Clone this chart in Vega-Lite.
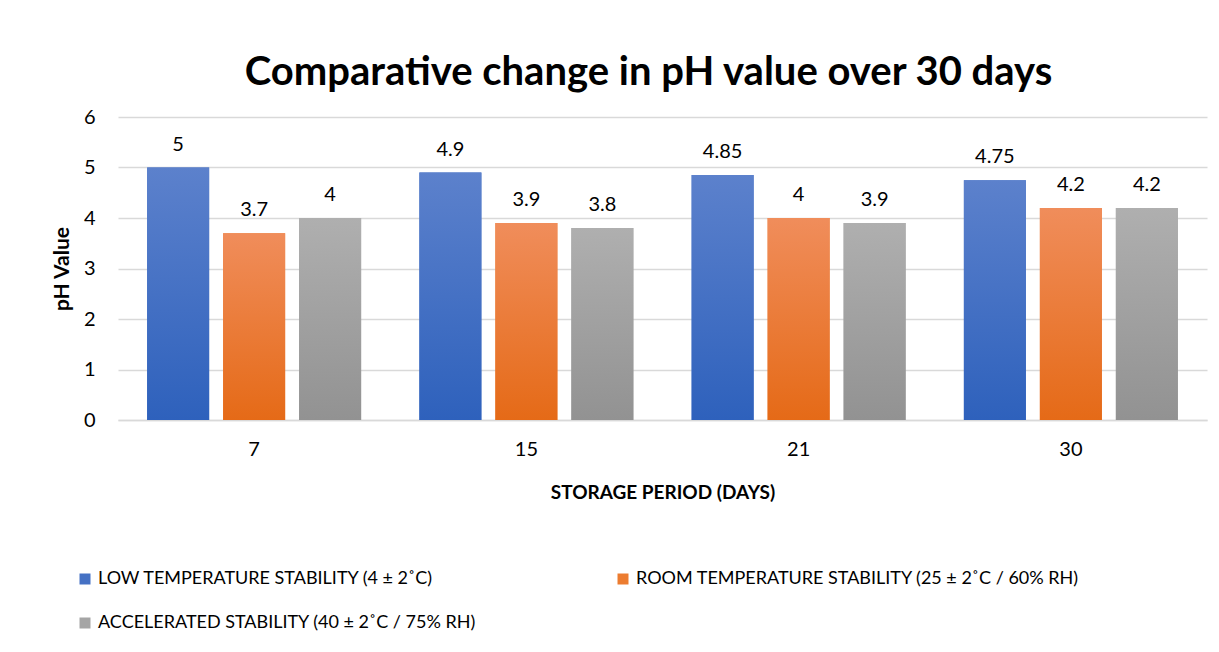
{
  "$schema": "https://vega.github.io/schema/vega-lite/v6.json",
  "width": 1089,
  "height": 303,
  "autosize": "none",
  "padding": {"left": 118, "top": 117, "right": 12, "bottom": 232},
  "background": "white",
  "config": {"font": "Lato", "view": {"stroke": null}},
  "title": {
    "text": "Comparative change in pH value over 30 days",
    "fontSize": 40,
    "fontWeight": "bold",
    "color": "#000000",
    "anchor": "middle",
    "frame": "group",
    "offset": 14,
    "dx": -14
  },
  "data": {
    "values": [
      {"day": "7", "series": "LOW TEMPERATURE STABILITY (4 ± 2˚C)", "ph": 5},
      {"day": "7", "series": "ROOM TEMPERATURE STABILITY (25 ± 2˚C / 60% RH)", "ph": 3.7},
      {"day": "7", "series": "ACCELERATED STABILITY (40 ± 2˚C / 75% RH)", "ph": 4},
      {"day": "15", "series": "LOW TEMPERATURE STABILITY (4 ± 2˚C)", "ph": 4.9},
      {"day": "15", "series": "ROOM TEMPERATURE STABILITY (25 ± 2˚C / 60% RH)", "ph": 3.9},
      {"day": "15", "series": "ACCELERATED STABILITY (40 ± 2˚C / 75% RH)", "ph": 3.8},
      {"day": "21", "series": "LOW TEMPERATURE STABILITY (4 ± 2˚C)", "ph": 4.85},
      {"day": "21", "series": "ROOM TEMPERATURE STABILITY (25 ± 2˚C / 60% RH)", "ph": 4},
      {"day": "21", "series": "ACCELERATED STABILITY (40 ± 2˚C / 75% RH)", "ph": 3.9},
      {"day": "30", "series": "LOW TEMPERATURE STABILITY (4 ± 2˚C)", "ph": 4.75},
      {"day": "30", "series": "ROOM TEMPERATURE STABILITY (25 ± 2˚C / 60% RH)", "ph": 4.2},
      {"day": "30", "series": "ACCELERATED STABILITY (40 ± 2˚C / 75% RH)", "ph": 4.2}
    ]
  },
  "encoding": {
    "x": {
      "field": "day",
      "type": "ordinal",
      "sort": ["7", "15", "21", "30"],
      "scale": {"paddingInner": 0.214, "paddingOuter": 0.107},
      "axis": {
        "title": "STORAGE PERIOD (DAYS)",
        "titleFontSize": 19,
        "titleFontWeight": "bold",
        "titleColor": "#000000",
        "titlePadding": 24,
        "labelAngle": 0,
        "labelFontSize": 20,
        "labelColor": "#000000",
        "labelPadding": 19,
        "ticks": false,
        "domain": true,
        "domainColor": "#D9D9D9",
        "domainWidth": 1.5
      }
    },
    "y": {
      "field": "ph",
      "type": "quantitative",
      "scale": {"domain": [0, 6], "nice": false},
      "axis": {
        "title": "pH Value",
        "titleFontSize": 21,
        "titleFontWeight": "bold",
        "titleColor": "#000000",
        "titlePadding": 11,
        "values": [0, 1, 2, 3, 4, 5, 6],
        "labelFontSize": 20,
        "labelColor": "#000000",
        "labelPadding": 23,
        "ticks": false,
        "domain": false,
        "grid": true,
        "gridColor": "#D9D9D9",
        "gridWidth": 1.5
      }
    },
    "xOffset": {
      "field": "series",
      "type": "nominal",
      "scale": {
        "domain": [
          "LOW TEMPERATURE STABILITY (4 ± 2˚C)",
          "ROOM TEMPERATURE STABILITY (25 ± 2˚C / 60% RH)",
          "ACCELERATED STABILITY (40 ± 2˚C / 75% RH)"
        ],
        "paddingInner": 0.184,
        "paddingOuter": 0
      }
    }
  },
  "layer": [
    {
      "mark": {"type": "bar"},
      "encoding": {
        "color": {
          "field": "series",
          "type": "nominal",
          "scale": {
            "domain": [
              "LOW TEMPERATURE STABILITY (4 ± 2˚C)",
              "ROOM TEMPERATURE STABILITY (25 ± 2˚C / 60% RH)",
              "ACCELERATED STABILITY (40 ± 2˚C / 75% RH)"
            ],
            "range": ["#4571C4", "#EC7C30", "#A5A5A5"]
          },
          "legend": {
            "orient": "none",
            "legendX": -42,
            "legendY": 453,
            "direction": "horizontal",
            "columns": 2,
            "title": null,
            "symbolType": "square",
            "symbolSize": 121,
            "symbolStrokeWidth": 0,
            "labelFontSize": 18,
            "labelColor": "#000000",
            "labelOffset": 4,
            "labelLimit": 1000,
            "columnPadding": 137,
            "rowPadding": 26
          }
        }
      }
    },
    {
      "transform": [{"filter": "datum.series === 'LOW TEMPERATURE STABILITY (4 ± 2˚C)'"}],
      "mark": {"type": "bar", "color": {"gradient": "linear", "x1": 0, "y1": 0, "x2": 0, "y2": 1, "stops": [{"offset": 0, "color": "#5C81CC"}, {"offset": 1, "color": "#2E61BC"}]}},
      "encoding": {}
    },
    {
      "transform": [{"filter": "datum.series === 'ROOM TEMPERATURE STABILITY (25 ± 2˚C / 60% RH)'"}],
      "mark": {"type": "bar", "color": {"gradient": "linear", "x1": 0, "y1": 0, "x2": 0, "y2": 1, "stops": [{"offset": 0, "color": "#F08D5B"}, {"offset": 1, "color": "#E56A17"}]}},
      "encoding": {}
    },
    {
      "transform": [{"filter": "datum.series === 'ACCELERATED STABILITY (40 ± 2˚C / 75% RH)'"}],
      "mark": {"type": "bar", "color": {"gradient": "linear", "x1": 0, "y1": 0, "x2": 0, "y2": 1, "stops": [{"offset": 0, "color": "#AFAFAF"}, {"offset": 1, "color": "#929292"}]}},
      "encoding": {}
    },
    {
      "mark": {"type": "text", "baseline": "alphabetic", "dy": -17, "fontSize": 20, "color": "#000000"},
      "encoding": {
        "text": {"field": "ph", "type": "quantitative"}
      }
    }
  ]
}
